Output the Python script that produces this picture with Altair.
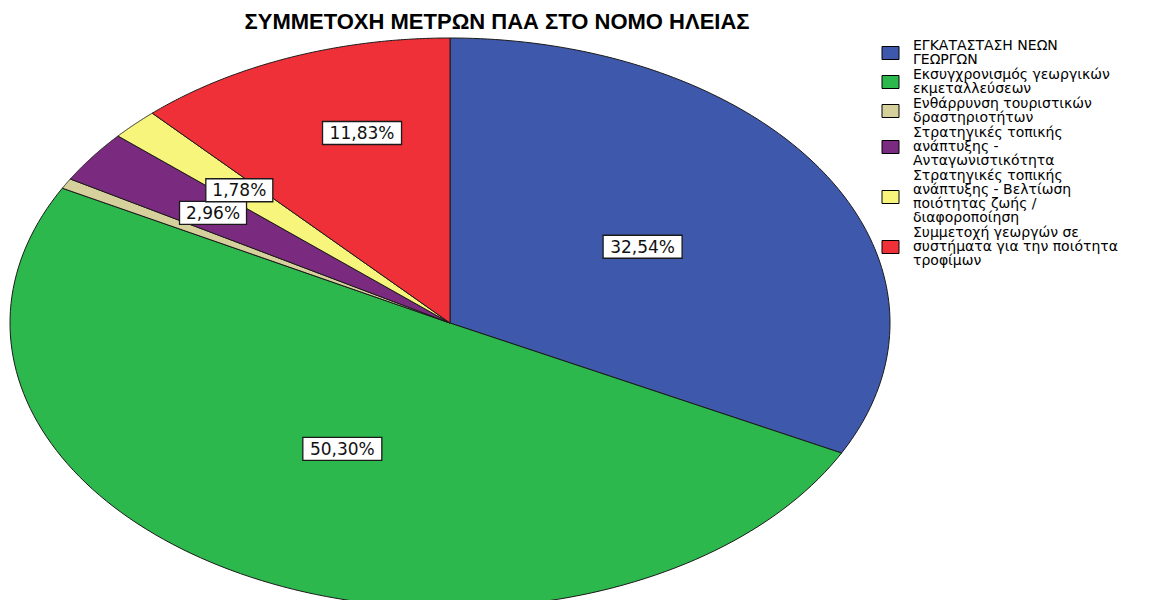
import altair as alt
import pandas as pd

# ---- data ----
categories = [
    "ΕΓΚΑΤΑΣΤΑΣΗ ΝΕΩΝ\nΓΕΩΡΓΩΝ",
    "Εκσυγχρονισμός γεωργικών\nεκμεταλλεύσεων",
    "Ενθάρρυνση τουριστικών\nδραστηριοτήτων",
    "Στρατηγικές τοπικής\nανάπτυξης -\nΑνταγωνιστικότητα",
    "Στρατηγικές τοπικής\nανάπτυξης - Βελτίωση\nποιότητας ζωής /\nδιαφοροποίηση",
    "Συμμετοχή γεωργών σε\nσυστήματα για την ποιότητα\nτροφίμων",
]
values = [32.54, 50.30, 0.59, 2.96, 1.78, 11.83]
colors = ["#3e58ac", "#2db84d", "#d6d09c", "#7b2b7f", "#f8f57c", "#ef3039"]

# label layout (radial fraction of the ellipse and small angular nudge, degrees)
show_label = [True, True, False, True, True, True]
label_radius = [0.513, 0.505, 0.5, 0.663, 0.668, 0.696]
label_turn = [0.0, 1.3, 0.0, 0.0, 0.0, 4.6]

TITLE = "ΣΥΜΜΕΤΟΧΗ ΜΕΤΡΩΝ ΠΑΑ ΣΤΟ ΝΟΜΟ ΗΛΕΙΑΣ"

W, H = 880, 562          # plot area
RX, RY = W / 2, 285      # pixel radii of the ellipse
Y_LOW = 1 - H / RY       # bottom of y domain
N = 120                  # points per slice outline

# legend layout (pixels inside the plot frame)
LH, PAD, TOP0 = 14, 1, 1
SW_X0, SW_X1, SW_H, TXT_X = 872, 889, 13, 903

df = pd.DataFrame({
    "category": categories,
    "value": values,
    "idx": list(range(len(categories))),
    "show": show_label,
    "lr": label_radius,
    "turn": label_turn,
})

xscale = alt.Scale(domain=[-1, 1], nice=False, zero=False)
yscale = alt.Scale(domain=[Y_LOW, 1], nice=False, zero=False)
cscale = alt.Scale(domain=categories, range=colors)

base = (
    alt.Chart(df)
    .transform_joinaggregate(total="sum(value)")
    .transform_window(cum="sum(value)", sort=[alt.SortField("idx")], frame=[None, 0])
    .transform_calculate(
        a0="2*PI*(datum.cum - datum.value)/datum.total",
        a1="2*PI*datum.cum/datum.total",
    )
)

slices = (
    base.transform_calculate(k=f"sequence(0, {N + 2})")
    .transform_flatten(["k"])
    .transform_calculate(
        t=f"datum.a0 + (datum.a1 - datum.a0) * clamp(datum.k - 1, 0, {N - 1}) / {N - 1}",
        edge=f"(datum.k > 0 && datum.k <= {N}) ? 1 : 0",
    )
    .transform_calculate(
        px="datum.edge * sin(datum.t)",
        py="datum.edge * cos(datum.t)",
    )
    .mark_line(filled=True, stroke="#1a1a1a", strokeWidth=1, strokeJoin="round", interpolate="linear")
    .encode(
        x=alt.X("px:Q", scale=xscale, axis=None),
        y=alt.Y("py:Q", scale=yscale, axis=None),
        color=alt.Color("category:N", sort=categories, scale=cscale, legend=None),
        detail="category:N",
        order=alt.Order("k:Q"),
    )
)

lab = (
    base.transform_filter("datum.show")
    .transform_calculate(
        mid="(datum.a0 + datum.a1)/2 + datum.turn*PI/180",
        txt="replace(format(100*datum.value/datum.total, '.2f'), '.', ',') + '%'",
    )
    .transform_calculate(
        lx="datum.lr * sin(datum.mid)",
        ly="datum.lr * cos(datum.mid)",
        hw=f"(12*length(datum.txt) + 7) / 2 / {RX}",
        hh=f"11.5 / {RY}",
    )
    .transform_calculate(
        bx0="datum.lx - datum.hw",
        bx1="datum.lx + datum.hw",
        by0="datum.ly - datum.hh",
        by1="datum.ly + datum.hh",
    )
)

boxes = lab.mark_rect(fill="#ffffff", stroke="#1a1a1a", strokeWidth=1.3).encode(
    x=alt.X("bx0:Q", scale=xscale, axis=None),
    x2="bx1:Q",
    y=alt.Y("by0:Q", scale=yscale, axis=None),
    y2="by1:Q",
)

texts = lab.mark_text(
    font="DejaVu Sans", fontSize=17, color="#111111", baseline="middle", align="center", dy=1
).encode(
    x=alt.X("lx:Q", scale=xscale, axis=None),
    y=alt.Y("ly:Q", scale=yscale, axis=None),
    text="txt:N",
)

# ---- legend drawn from the same categories ----
leg = (
    alt.Chart(df)
    .transform_calculate(nl="length(split(datum.category, '\\n'))")
    .transform_window(cl="sum(nl)", sort=[alt.SortField("idx")], frame=[None, 0])
    .transform_calculate(
        top_px=f"{TOP0} + {LH} * (datum.cl - datum.nl) + {PAD} * datum.idx",
    )
    .transform_calculate(ctr_px=f"datum.top_px + datum.nl * {LH} / 2")
    .transform_calculate(
        sx0=f"{SW_X0} / {RX} - 1",
        sx1=f"{SW_X1} / {RX} - 1",
        sy0=f"1 - (datum.ctr_px - {SW_H / 2}) / {RY}",
        sy1=f"1 - (datum.ctr_px + {SW_H / 2}) / {RY}",
        tx=f"{TXT_X} / {RX} - 1",
        ty="1 - datum.top_px / " + str(RY),
    )
)

leg_swatch = leg.mark_rect(stroke="#000000", strokeWidth=1).encode(
    x=alt.X("sx0:Q", scale=xscale, axis=None),
    x2="sx1:Q",
    y=alt.Y("sy0:Q", scale=yscale, axis=None),
    y2="sy1:Q",
    color=alt.Color("category:N", sort=categories, scale=cscale, legend=None),
)

leg_text = leg.mark_text(
    font="DejaVu Sans", fontSize=14, color="#000000", align="left", baseline="top",
    lineBreak="\n", lineHeight=LH,
).encode(
    x=alt.X("tx:Q", scale=xscale, axis=None),
    y=alt.Y("ty:Q", scale=yscale, axis=None),
    text="category:N",
)

chart = (
    alt.layer(slices, boxes, texts, leg_swatch, leg_text)
    .properties(
        width=W,
        height=H,
        autosize="none",
        padding={"left": 2, "top": 30, "right": 275, "bottom": 0},
        title=alt.TitleParams(
            TITLE,
            font="Liberation Sans",
            fontSize=22,
            fontWeight="bold",
            color="#000000",
            anchor="middle",
            dx=47,
            offset=4,
        ),
    )
    .configure(background="#ffffff")
    .configure_view(strokeWidth=0, stroke="transparent")
)

chart.save("out.html", embed_options={"renderer": "svg", "actions": False})
